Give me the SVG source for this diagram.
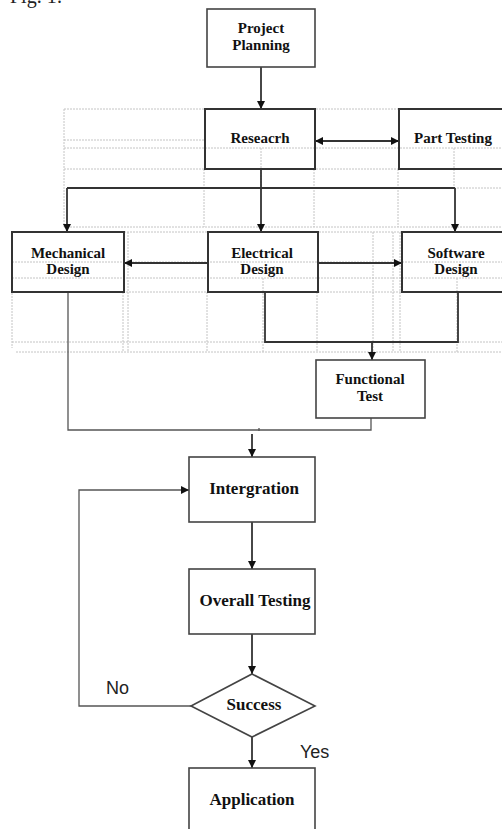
<svg xmlns="http://www.w3.org/2000/svg" width="502" height="829" viewBox="0 0 502 829">
<defs>
<marker id="ah" viewBox="0 0 10 10" refX="10" refY="5" markerWidth="8" markerHeight="8" markerUnits="userSpaceOnUse" orient="auto-start-reverse">
<path d="M0,0 L10,5 L0,10 z" fill="#111"/>
</marker>
<style>
.grid{stroke:#c4c4c4;stroke-width:1;stroke-dasharray:2 1;fill:none}
.box{fill:none;stroke:#444;stroke-width:1.6}
.tbox{fill:none;stroke:#333;stroke-width:2}
.ln{fill:none;stroke:#333;stroke-width:1.8}
.thin{fill:none;stroke:#555;stroke-width:1.3}
.lbl{font-family:"Liberation Serif","Times New Roman",serif;font-weight:bold;font-size:15px;fill:#111;text-anchor:middle}
.big{font-size:17px}
.yn{font-family:"Liberation Sans",Arial,sans-serif;font-size:18px;fill:#222}
</style>
</defs>
<rect width="502" height="829" fill="#fff"/>
<text x="10" y="3" font-family="Liberation Serif, serif" font-size="20" fill="#222">Fig. 1:</text>
<g id="grid">
<path class="grid" d="M64,109H502 M64,140H205 M64,148H502 M64,169H502 M454,188H502 M64,227H502 M64,109V227 M204,169V227 M261,148V188 M314,169V227 M398,169V227 M454,148V188"/>
<path class="grid" d="M16,232H502 M12,262H502 M12,278H502 M12,292H502 M12,342H502 M16,352H502 M12,236V348 M123,292V352 M128,232V352 M207,292V352 M263,278V352 M317,292V352 M373,232V352 M393,232V352 M400,232V352 M457,278V352"/>
</g>
<g id="connectors">
<path class="ln" d="M261,67V109" marker-end="url(#ah)"/>
<path class="ln" d="M315,141H399" marker-start="url(#ah)" marker-end="url(#ah)"/>
<path class="ln" d="M261,169V232" marker-end="url(#ah)"/>
<path class="ln" d="M67,188H455"/>
<path class="ln" d="M67,188V232" marker-end="url(#ah)"/>
<path class="ln" d="M455,188V232" marker-end="url(#ah)"/>
<path class="ln" d="M208,263H124" marker-end="url(#ah)"/>
<path class="ln" d="M318,263H402" marker-end="url(#ah)"/>
<path class="ln" d="M265,292V342H458V292"/>
<path class="ln" d="M372,342V360" marker-end="url(#ah)"/>
<path class="thin" d="M68,292V430H371V418"/>
<path class="thin" d="M259,428V431"/>
<path class="ln" d="M252,434V457" marker-end="url(#ah)"/>
<path class="ln" d="M252,522V569" marker-end="url(#ah)"/>
<path class="ln" d="M252,634V674" marker-end="url(#ah)"/>
<path class="ln" d="M252,737V768" marker-end="url(#ah)"/>
<path class="thin" d="M191,706H79V490H189" marker-end="url(#ah)"/>
</g>
<g id="project-planning">
<rect class="box" x="207" y="9" width="108" height="58"/>
<text class="lbl" x="261" y="33">Project</text>
<text class="lbl" x="261" y="50">Planning</text>
</g>
<g id="research">
<rect class="tbox" x="205" y="109" width="110" height="60"/>
<text class="lbl" x="260" y="143">Reseacrh</text>
</g>
<g id="part-testing">
<rect class="tbox" x="399" y="109" width="120" height="60"/>
<text class="lbl" x="453" y="143">Part Testing</text>
</g>
<g id="mechanical-design">
<rect class="tbox" x="12" y="232" width="112" height="60"/>
<text class="lbl" x="68" y="258">Mechanical</text>
<text class="lbl" x="68" y="274">Design</text>
</g>
<g id="electrical-design">
<rect class="tbox" x="208" y="232" width="110" height="60"/>
<text class="lbl" x="262" y="258">Electrical</text>
<text class="lbl" x="262" y="274">Design</text>
</g>
<g id="software-design">
<rect class="tbox" x="402" y="232" width="120" height="60"/>
<text class="lbl" x="456" y="258">Software</text>
<text class="lbl" x="456" y="274">Design</text>
</g>
<g id="functional-test">
<rect class="box" x="316" y="360" width="109" height="58"/>
<text class="lbl" x="370" y="384">Functional</text>
<text class="lbl" x="370" y="401">Test</text>
</g>
<g id="intergration">
<rect class="box" x="189" y="457" width="126" height="65"/>
<text class="lbl big" x="254" y="494">Intergration</text>
</g>
<g id="overall-testing">
<rect class="box" x="189" y="569" width="126" height="65"/>
<text class="lbl big" x="255" y="606">Overall Testing</text>
</g>
<g id="success">
<path class="box" d="M252,674 L315,706 L252,737 L191,706 Z"/>
<text class="lbl big" x="254" y="710">Success</text>
</g>
<g id="application">
<rect class="box" x="189" y="768" width="126" height="80"/>
<text class="lbl big" x="252" y="805">Application</text>
</g>
<text class="yn" x="106" y="694">No</text>
<text class="yn" x="300" y="758">Yes</text>
</svg>
